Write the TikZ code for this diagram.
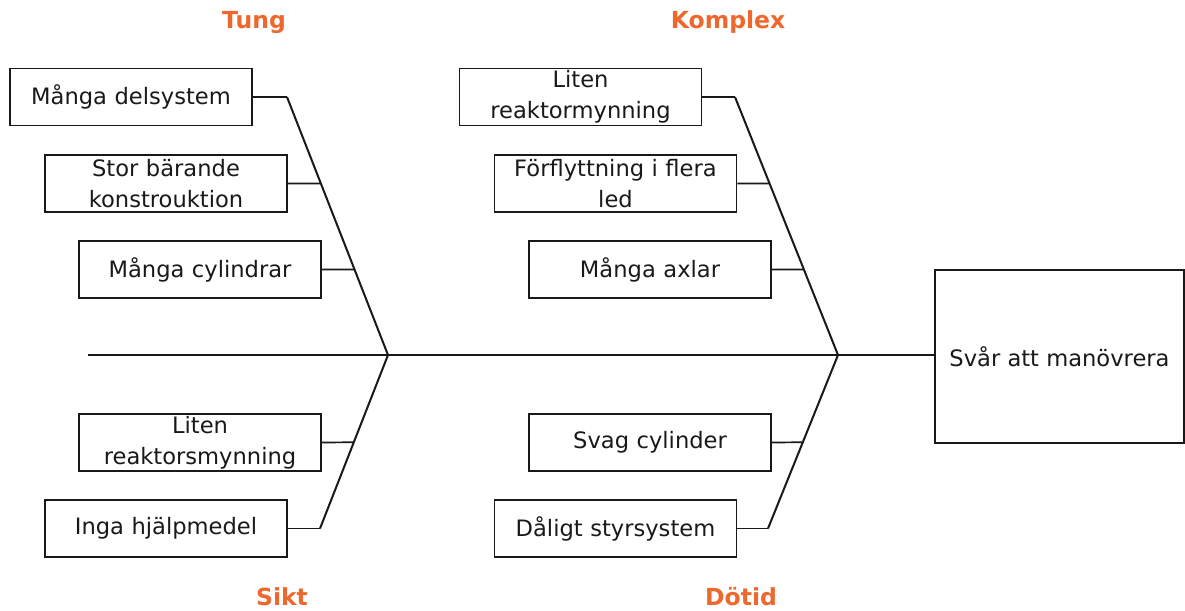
\documentclass[tikz,border=0pt]{standalone}
\usepackage{fontspec}
\usetikzlibrary{calc}
\setmainfont{DejaVu Sans}
\definecolor{cat}{RGB}{238,104,46}
\definecolor{ink}{RGB}{25,25,25}
\begin{document}
\begin{tikzpicture}[x=1pt,y=-1pt,
  cause/.style={draw=ink,line width=1.7pt,minimum width=242pt,minimum height=57pt,
    inner sep=0pt,align=center,text width=236pt,text=ink,
    font=\fontsize{22.6}{31}\selectfont},
  effect/.style={draw=ink,line width=1.7pt,minimum width=249pt,minimum height=173pt,
    inner sep=0pt,align=center,text=ink,font=\fontsize{22.6}{31}\selectfont},
  catlabel/.style={text=cat,inner sep=0pt,font=\bfseries\fontsize{23.5}{28}\selectfont},
  spine/.style={draw=ink,line width=2.4pt},
  bone/.style={draw=ink,line width=2pt},
  tick/.style={draw=ink,line width=1.7pt}]
\useasboundingbox (0,0) rectangle (1185,610);

% category labels
\node[catlabel] (lt) at (254,22) {Tung};
\node[catlabel] (lk) at (728,22) {Komplex};
\node[catlabel] (ls) at (282,597) {Sikt};
\node[catlabel] (ld) at (741,597) {Dötid};

% effect
\node[effect] (head) at (1059.5,356.5) {Svår att manövrera};

% causes
\node[cause] (t1) at (131,97) {Många delsystem};
\node[cause] (t2) at (166,183.5) {Stor bärande\\konstrouktion};
\node[cause] (t3) at (200,269.5) {Många cylindrar};
\node[cause] (s1) at (200,442.5) {Liten\\reaktorsmynning};
\node[cause] (s2) at (166,528.5) {Inga hjälpmedel};
\node[cause] (k1) at (580.5,97) {Liten\\reaktormynning};
\node[cause] (k2) at (615.5,183.5) {Förflyttning i flera\\led};
\node[cause] (k3) at (650,269.5) {Många axlar};
\node[cause] (d1) at (650,442.5) {Svag cylinder};
\node[cause] (d2) at (615.5,528.5) {Dåligt styrsystem};

% spine and bone points
\coordinate (tail) at (88,355);
\coordinate (jl) at (388,355);
\coordinate (jr) at (838,355);
\coordinate (bt) at (287,97);
\coordinate (bs) at (320,528.5);
\coordinate (bk) at (735,97);
\coordinate (bd) at (768,528.5);

\draw[spine] (tail) -- (tail -| head.west);
\draw[bone] (jl) -- (bt);
\draw[bone] (jl) -- (bs);
\draw[bone] (jr) -- (bk);
\draw[bone] (jr) -- (bd);

% ticks: each cause meets its bone at the same height (fraction along the bone)
\foreach \c/\j/\b/\f in {t1/jl/bt/1,t2/jl/bt/0.6647,t3/jl/bt/0.3314,
                         s1/jl/bs/0.5029,s2/jl/bs/1,
                         k1/jr/bk/1,k2/jr/bk/0.6647,k3/jr/bk/0.3314,
                         d1/jr/bd/0.5029,d2/jr/bd/1}{
  \coordinate (\c p) at ($(\j)!\f!(\b)$);
  \draw[tick] (\c.east) -- (\c p);
}
\end{tikzpicture}
\end{document}
